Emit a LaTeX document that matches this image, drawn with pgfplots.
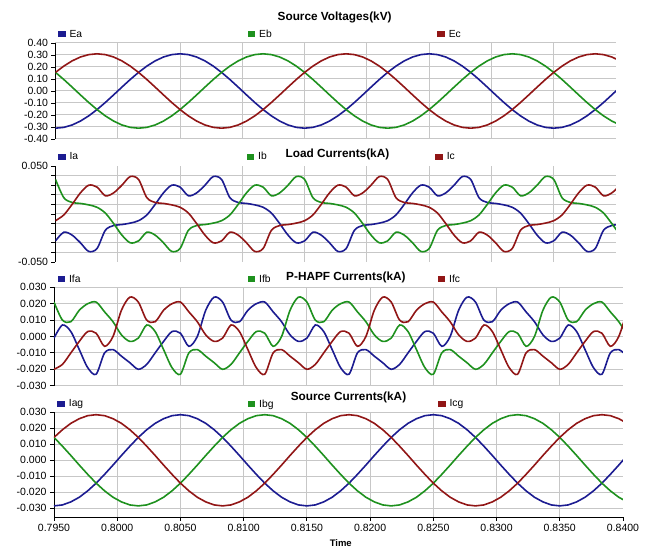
\documentclass[border=0pt]{standalone}
\usepackage{fontspec}
\setmainfont{Liberation Sans}
\usepackage{pgfplots}
\usepackage{pgfplotstable}
\pgfplotsset{compat=1.18}

\definecolor{pblue}{RGB}{28,28,145}
\definecolor{pgreen}{RGB}{30,145,30}
\definecolor{pred}{RGB}{145,22,22}

% source voltages (kV)
\pgfplotstableread{
t ea eb ec
0.795 -0.310 0.155 0.155
0.795667 -0.3032 0.0958 0.2074
0.796333 -0.2832 0.0324 0.2508
0.797 -0.2508 -0.0324 0.2832
0.797667 -0.2074 -0.0958 0.3032
0.798333 -0.155 -0.155 0.310
0.799 -0.0958 -0.2074 0.3032
0.799667 -0.0324 -0.2508 0.2832
0.800333 0.0324 -0.2832 0.2508
0.801 0.0958 -0.3032 0.2074
0.801667 0.155 -0.310 0.155
0.802333 0.2074 -0.3032 0.0958
0.803 0.2508 -0.2832 0.0324
0.803667 0.2832 -0.2508 -0.0324
0.804333 0.3032 -0.2074 -0.0958
0.805 0.310 -0.155 -0.155
0.805667 0.3032 -0.0958 -0.2074
0.806333 0.2832 -0.0324 -0.2508
0.807 0.2508 0.0324 -0.2832
0.807667 0.2074 0.0958 -0.3032
0.808333 0.155 0.155 -0.310
0.809 0.0958 0.2074 -0.3032
0.809667 0.0324 0.2508 -0.2832
0.810333 -0.0324 0.2832 -0.2508
0.811 -0.0958 0.3032 -0.2074
0.811667 -0.155 0.310 -0.155
0.812333 -0.2074 0.3032 -0.0958
0.813 -0.2508 0.2832 -0.0324
0.813667 -0.2832 0.2508 0.0324
0.814333 -0.3032 0.2074 0.0958
0.815 -0.310 0.155 0.155
0.815667 -0.3032 0.0958 0.2074
0.816333 -0.2832 0.0324 0.2508
0.817 -0.2508 -0.0324 0.2832
0.817667 -0.2074 -0.0958 0.3032
0.818333 -0.155 -0.155 0.310
0.819 -0.0958 -0.2074 0.3032
0.819667 -0.0324 -0.2508 0.2832
0.820333 0.0324 -0.2832 0.2508
0.821 0.0958 -0.3032 0.2074
0.821667 0.155 -0.310 0.155
0.822333 0.2074 -0.3032 0.0958
0.823 0.2508 -0.2832 0.0324
0.823667 0.2832 -0.2508 -0.0324
0.824333 0.3032 -0.2074 -0.0958
0.825 0.310 -0.155 -0.155
0.825667 0.3032 -0.0958 -0.2074
0.826333 0.2832 -0.0324 -0.2508
0.827 0.2508 0.0324 -0.2832
0.827667 0.2074 0.0958 -0.3032
0.828333 0.155 0.155 -0.310
0.829 0.0958 0.2074 -0.3032
0.829667 0.0324 0.2508 -0.2832
0.830333 -0.0324 0.2832 -0.2508
0.831 -0.0958 0.3032 -0.2074
0.831667 -0.155 0.310 -0.155
0.832333 -0.2074 0.3032 -0.0958
0.833 -0.2508 0.2832 -0.0324
0.833667 -0.2832 0.2508 0.0324
0.834333 -0.3032 0.2074 0.0958
0.835 -0.310 0.155 0.155
0.835667 -0.3032 0.0958 0.2074
0.836333 -0.2832 0.0324 0.2508
0.837 -0.2508 -0.0324 0.2832
0.837667 -0.2074 -0.0958 0.3032
0.838333 -0.155 -0.155 0.310
0.839 -0.0958 -0.2074 0.3032
0.839667 -0.0324 -0.2508 0.2832
0.840333 0.0324 -0.2832 0.2508
}\voltdata

% load currents (kA)
\pgfplotstableread{
t ia ib ic
0.795 -0.028 0.036 -0.007
0.795667 -0.019 0.017 -0.001
0.796333 -0.022 0.012 0.010
0.797 -0.030 0.011 0.022
0.797667 -0.039 0.0095 0.030
0.798333 -0.036 0.007 0.028
0.799 -0.017 0.001 0.019
0.799667 -0.012 -0.010 0.022
0.800333 -0.011 -0.022 0.030
0.801 -0.0095 -0.030 0.039
0.801667 -0.007 -0.028 0.036
0.802333 -0.001 -0.019 0.017
0.803 0.010 -0.022 0.012
0.803667 0.022 -0.030 0.011
0.804333 0.030 -0.039 0.0095
0.805 0.028 -0.036 0.007
0.805667 0.019 -0.017 0.001
0.806333 0.022 -0.012 -0.010
0.807 0.030 -0.011 -0.022
0.807667 0.039 -0.0095 -0.030
0.808333 0.036 -0.007 -0.028
0.809 0.017 -0.001 -0.019
0.809667 0.012 0.010 -0.022
0.810333 0.011 0.022 -0.030
0.811 0.0095 0.030 -0.039
0.811667 0.007 0.028 -0.036
0.812333 0.001 0.019 -0.017
0.813 -0.010 0.022 -0.012
0.813667 -0.022 0.030 -0.011
0.814333 -0.030 0.039 -0.0095
0.815 -0.028 0.036 -0.007
0.815667 -0.019 0.017 -0.001
0.816333 -0.022 0.012 0.010
0.817 -0.030 0.011 0.022
0.817667 -0.039 0.0095 0.030
0.818333 -0.036 0.007 0.028
0.819 -0.017 0.001 0.019
0.819667 -0.012 -0.010 0.022
0.820333 -0.011 -0.022 0.030
0.821 -0.0095 -0.030 0.039
0.821667 -0.007 -0.028 0.036
0.822333 -0.001 -0.019 0.017
0.823 0.010 -0.022 0.012
0.823667 0.022 -0.030 0.011
0.824333 0.030 -0.039 0.0095
0.825 0.028 -0.036 0.007
0.825667 0.019 -0.017 0.001
0.826333 0.022 -0.012 -0.010
0.827 0.030 -0.011 -0.022
0.827667 0.039 -0.0095 -0.030
0.828333 0.036 -0.007 -0.028
0.829 0.017 -0.001 -0.019
0.829667 0.012 0.010 -0.022
0.830333 0.011 0.022 -0.030
0.831 0.0095 0.030 -0.039
0.831667 0.007 0.028 -0.036
0.832333 0.001 0.019 -0.017
0.833 -0.010 0.022 -0.012
0.833667 -0.022 0.030 -0.011
0.834333 -0.030 0.039 -0.0095
0.835 -0.028 0.036 -0.007
0.835667 -0.019 0.017 -0.001
0.836333 -0.022 0.012 0.010
0.837 -0.030 0.011 0.022
0.837667 -0.039 0.0095 0.030
0.838333 -0.036 0.007 0.028
0.839 -0.017 0.001 0.019
0.839667 -0.012 -0.010 0.022
0.840333 -0.011 -0.022 0.030
}\loaddata

% P-HAPF currents (kA)
\pgfplotstableread{
t fa fb fc
0.795 -0.001 0.021 -0.020
0.795667 0.007 0.010 -0.017
0.796333 0.003 0.009 -0.010
0.797 -0.008 0.016 -0.003
0.797667 -0.019 0.020 0.003
0.798333 -0.023 0.021 0.002
0.799 -0.010 0.015 -0.006
0.799667 -0.008 0.009 0.000
0.800333 -0.012 0.001 0.016
0.801 -0.016 -0.003 0.024
0.801667 -0.020 -0.001 0.021
0.802333 -0.017 0.007 0.010
0.803 -0.010 0.003 0.009
0.803667 -0.003 -0.008 0.016
0.804333 0.003 -0.019 0.020
0.805 0.002 -0.023 0.021
0.805667 -0.006 -0.010 0.015
0.806333 0.000 -0.008 0.009
0.807 0.016 -0.012 0.001
0.807667 0.024 -0.016 -0.003
0.808333 0.021 -0.020 -0.001
0.809 0.010 -0.017 0.007
0.809667 0.009 -0.010 0.003
0.810333 0.016 -0.003 -0.008
0.811 0.020 0.003 -0.019
0.811667 0.021 0.002 -0.023
0.812333 0.015 -0.006 -0.010
0.813 0.009 0.000 -0.008
0.813667 0.001 0.016 -0.012
0.814333 -0.003 0.024 -0.016
0.815 -0.001 0.021 -0.020
0.815667 0.007 0.010 -0.017
0.816333 0.003 0.009 -0.010
0.817 -0.008 0.016 -0.003
0.817667 -0.019 0.020 0.003
0.818333 -0.023 0.021 0.002
0.819 -0.010 0.015 -0.006
0.819667 -0.008 0.009 0.000
0.820333 -0.012 0.001 0.016
0.821 -0.016 -0.003 0.024
0.821667 -0.020 -0.001 0.021
0.822333 -0.017 0.007 0.010
0.823 -0.010 0.003 0.009
0.823667 -0.003 -0.008 0.016
0.824333 0.003 -0.019 0.020
0.825 0.002 -0.023 0.021
0.825667 -0.006 -0.010 0.015
0.826333 0.000 -0.008 0.009
0.827 0.016 -0.012 0.001
0.827667 0.024 -0.016 -0.003
0.828333 0.021 -0.020 -0.001
0.829 0.010 -0.017 0.007
0.829667 0.009 -0.010 0.003
0.830333 0.016 -0.003 -0.008
0.831 0.020 0.003 -0.019
0.831667 0.021 0.002 -0.023
0.832333 0.015 -0.006 -0.010
0.833 0.009 0.000 -0.008
0.833667 0.001 0.016 -0.012
0.834333 -0.003 0.024 -0.016
0.835 -0.001 0.021 -0.020
0.835667 0.007 0.010 -0.017
0.836333 0.003 0.009 -0.010
0.837 -0.008 0.016 -0.003
0.837667 -0.019 0.020 0.003
0.838333 -0.023 0.021 0.002
0.839 -0.010 0.015 -0.006
0.839667 -0.008 0.009 0.000
0.840333 -0.012 0.001 0.016
}\hapfdata

% source currents (kA)
\pgfplotstableread{
t sa sb sc
0.795 -0.0285 0.0143 0.0143
0.795667 -0.0279 0.0088 0.0191
0.796333 -0.0260 0.0030 0.0231
0.797 -0.0231 -0.0030 0.0260
0.797667 -0.0191 -0.0088 0.0279
0.798333 -0.0143 -0.0143 0.0285
0.799 -0.0088 -0.0191 0.0279
0.799667 -0.0030 -0.0231 0.0260
0.800333 0.0030 -0.0260 0.0231
0.801 0.0088 -0.0279 0.0191
0.801667 0.0143 -0.0285 0.0143
0.802333 0.0191 -0.0279 0.0088
0.803 0.0231 -0.0260 0.0030
0.803667 0.0260 -0.0231 -0.0030
0.804333 0.0279 -0.0191 -0.0088
0.805 0.0285 -0.0143 -0.0143
0.805667 0.0279 -0.0088 -0.0191
0.806333 0.0260 -0.0030 -0.0231
0.807 0.0231 0.0030 -0.0260
0.807667 0.0191 0.0088 -0.0279
0.808333 0.0143 0.0143 -0.0285
0.809 0.0088 0.0191 -0.0279
0.809667 0.0030 0.0231 -0.0260
0.810333 -0.0030 0.0260 -0.0231
0.811 -0.0088 0.0279 -0.0191
0.811667 -0.0143 0.0285 -0.0143
0.812333 -0.0191 0.0279 -0.0088
0.813 -0.0231 0.0260 -0.0030
0.813667 -0.0260 0.0231 0.0030
0.814333 -0.0279 0.0191 0.0088
0.815 -0.0285 0.0143 0.0143
0.815667 -0.0279 0.0088 0.0191
0.816333 -0.0260 0.0030 0.0231
0.817 -0.0231 -0.0030 0.0260
0.817667 -0.0191 -0.0088 0.0279
0.818333 -0.0143 -0.0143 0.0285
0.819 -0.0088 -0.0191 0.0279
0.819667 -0.0030 -0.0231 0.0260
0.820333 0.0030 -0.0260 0.0231
0.821 0.0088 -0.0279 0.0191
0.821667 0.0143 -0.0285 0.0143
0.822333 0.0191 -0.0279 0.0088
0.823 0.0231 -0.0260 0.0030
0.823667 0.0260 -0.0231 -0.0030
0.824333 0.0279 -0.0191 -0.0088
0.825 0.0285 -0.0143 -0.0143
0.825667 0.0279 -0.0088 -0.0191
0.826333 0.0260 -0.0030 -0.0231
0.827 0.0231 0.0030 -0.0260
0.827667 0.0191 0.0088 -0.0279
0.828333 0.0143 0.0143 -0.0285
0.829 0.0088 0.0191 -0.0279
0.829667 0.0030 0.0231 -0.0260
0.830333 -0.0030 0.0260 -0.0231
0.831 -0.0088 0.0279 -0.0191
0.831667 -0.0143 0.0285 -0.0143
0.832333 -0.0191 0.0279 -0.0088
0.833 -0.0231 0.0260 -0.0030
0.833667 -0.0260 0.0231 0.0030
0.834333 -0.0279 0.0191 0.0088
0.835 -0.0285 0.0143 0.0143
0.835667 -0.0279 0.0088 0.0191
0.836333 -0.0260 0.0030 0.0231
0.837 -0.0231 -0.0030 0.0260
0.837667 -0.0191 -0.0088 0.0279
0.838333 -0.0143 -0.0143 0.0285
0.839 -0.0088 -0.0191 0.0279
0.839667 -0.0030 -0.0231 0.0260
0.840333 0.0030 -0.0260 0.0231
}\srcdata

\pgfplotsset{
  panel/.style={
    scale only axis,
    axis lines*=left,
    xmin=0.795, xmax=0.84,
    scaled x ticks=false, scaled y ticks=false,
    xtick={0.8,0.805,0.81,0.815,0.82,0.825,0.83,0.835},
    xmajorgrids, ymajorgrids,
    grid style={black!22, line width=1pt},
    axis line style={black, line width=0.9pt},
    tick align=outside,
    major tick length=4pt,
    minor tick length=4pt,
    tick style={black, line width=0.8pt},
    tick label style={font=\fontsize{10.5}{12}\selectfont, /pgf/number format/assume math mode=true},
    legend image code/.code={\fill[##1] (0pt,-2.2pt) rectangle (6pt,2.2pt);},
    legend columns=3,
    legend cell align=left,
    legend style={draw=none, fill=none, inner sep=0pt, outer sep=0pt, anchor=west,
      font=\fontsize{10.3}{12}\selectfont, nodes={inner sep=2pt},
      /tikz/every odd column/.append style={column sep=2pt}},
    title style={font=\bfseries\fontsize{11.8}{13}\selectfont, anchor=center},
    every axis plot/.append style={line width=1.6pt},
  },
  hidex/.style={x axis line style={draw=none}, xticklabels={}, xtick style={draw=none}},
}

\begin{document}
\begin{tikzpicture}
\useasboundingbox (0,0) rectangle (649pt,548pt);

\begin{axis}[panel, hidex, at={(55.5pt,409pt)}, anchor=south west, width=560.5pt, height=96pt,
  ymin=-0.4, ymax=0.4, ytick={-0.4,-0.3,-0.2,-0.1,0,0.1,0.2,0.3,0.4},
  yticklabel style={/pgf/number format/fixed, /pgf/number format/fixed zerofill, /pgf/number format/precision=2},
  title={Source Voltages(kV)}, title style={at={(axis description cs:0.498,1)}, yshift=19.3pt},
  legend style={at={(axis description cs:0.0045,1.0885)}, /tikz/every even column/.append style={column sep=163.4pt}}]
\addplot[pblue] table[x=t,y=ea]{\voltdata};
\addplot[pgreen] table[x=t,y=eb]{\voltdata};
\addplot[pred] table[x=t,y=ec]{\voltdata};
\legend{Ea,Eb,Ec}
\end{axis}

\begin{axis}[panel, hidex, at={(55.5pt,286pt)}, anchor=south west, width=560.5pt, height=96pt,
  ymin=-0.05, ymax=0.05, ytick={-0.05,0.05},
  minor ytick={-0.04,-0.03,-0.02,-0.01,0,0.01,0.02,0.03,0.04},
  ymajorgrids=false, yminorgrids=true, minor grid style={black!22, line width=1pt},
  yticklabel style={/pgf/number format/fixed, /pgf/number format/fixed zerofill, /pgf/number format/precision=3},
  title={Load Currents(kA)}, title style={at={(axis description cs:0.503,1)}, yshift=5.7pt},
  legend style={at={(axis description cs:0.0045,1.097)}, /tikz/every even column/.append style={column sep=166.4pt}}]
\addplot[pblue, smooth] table[x=t,y=ia]{\loaddata};
\addplot[pgreen, smooth] table[x=t,y=ib]{\loaddata};
\addplot[pred, smooth] table[x=t,y=ic]{\loaddata};
\legend{Ia,Ib,Ic}
\end{axis}

\begin{axis}[panel, hidex, at={(54pt,162.3pt)}, anchor=south west, width=569pt, height=98.4pt,
  ymin=-0.03, ymax=0.03, ytick={-0.03,-0.02,-0.01,0,0.01,0.02,0.03},
  yticklabel style={/pgf/number format/fixed, /pgf/number format/fixed zerofill, /pgf/number format/precision=3},
  title={P-HAPF Currents(kA)}, title style={at={(axis description cs:0.513,1)}, yshift=3.6pt},
  legend style={at={(axis description cs:0.0062,1.081)}, /tikz/every even column/.append style={column sep=165pt}}]
\addplot[pblue, smooth] table[x=t,y=fa]{\hapfdata};
\addplot[pgreen, smooth] table[x=t,y=fb]{\hapfdata};
\addplot[pred, smooth] table[x=t,y=fc]{\hapfdata};
\legend{Ifa,Ifb,Ifc}
\end{axis}

\begin{axis}[panel, at={(54pt,31pt)}, anchor=south west, width=569pt, height=104.7pt,
  ymin=-0.03544, ymax=0.03, ytick={-0.03,-0.02,-0.01,0,0.01,0.02,0.03},
  extra x ticks={0.795,0.84}, extra x tick style={grid=none},
  xticklabel style={/pgf/number format/fixed, /pgf/number format/fixed zerofill, /pgf/number format/precision=4},
  yticklabel style={/pgf/number format/fixed, /pgf/number format/fixed zerofill, /pgf/number format/precision=3},
  xlabel={Time}, xlabel style={font=\bfseries\fontsize{9.5}{11}\selectfont, at={(axis description cs:0.504,0)}, anchor=center, yshift=-26pt},
  title={Source Currents(kA)}, title style={at={(axis description cs:0.5176,1)}, yshift=9.3pt},
  legend style={at={(axis description cs:0.0058,1.079)}, /tikz/every even column/.append style={column sep=162.4pt}}]
\addplot[pblue] table[x=t,y=sa]{\srcdata};
\addplot[pgreen] table[x=t,y=sb]{\srcdata};
\addplot[pred] table[x=t,y=sc]{\srcdata};
\legend{Iag,Ibg,Icg}
\end{axis}
\end{tikzpicture}
\end{document}
